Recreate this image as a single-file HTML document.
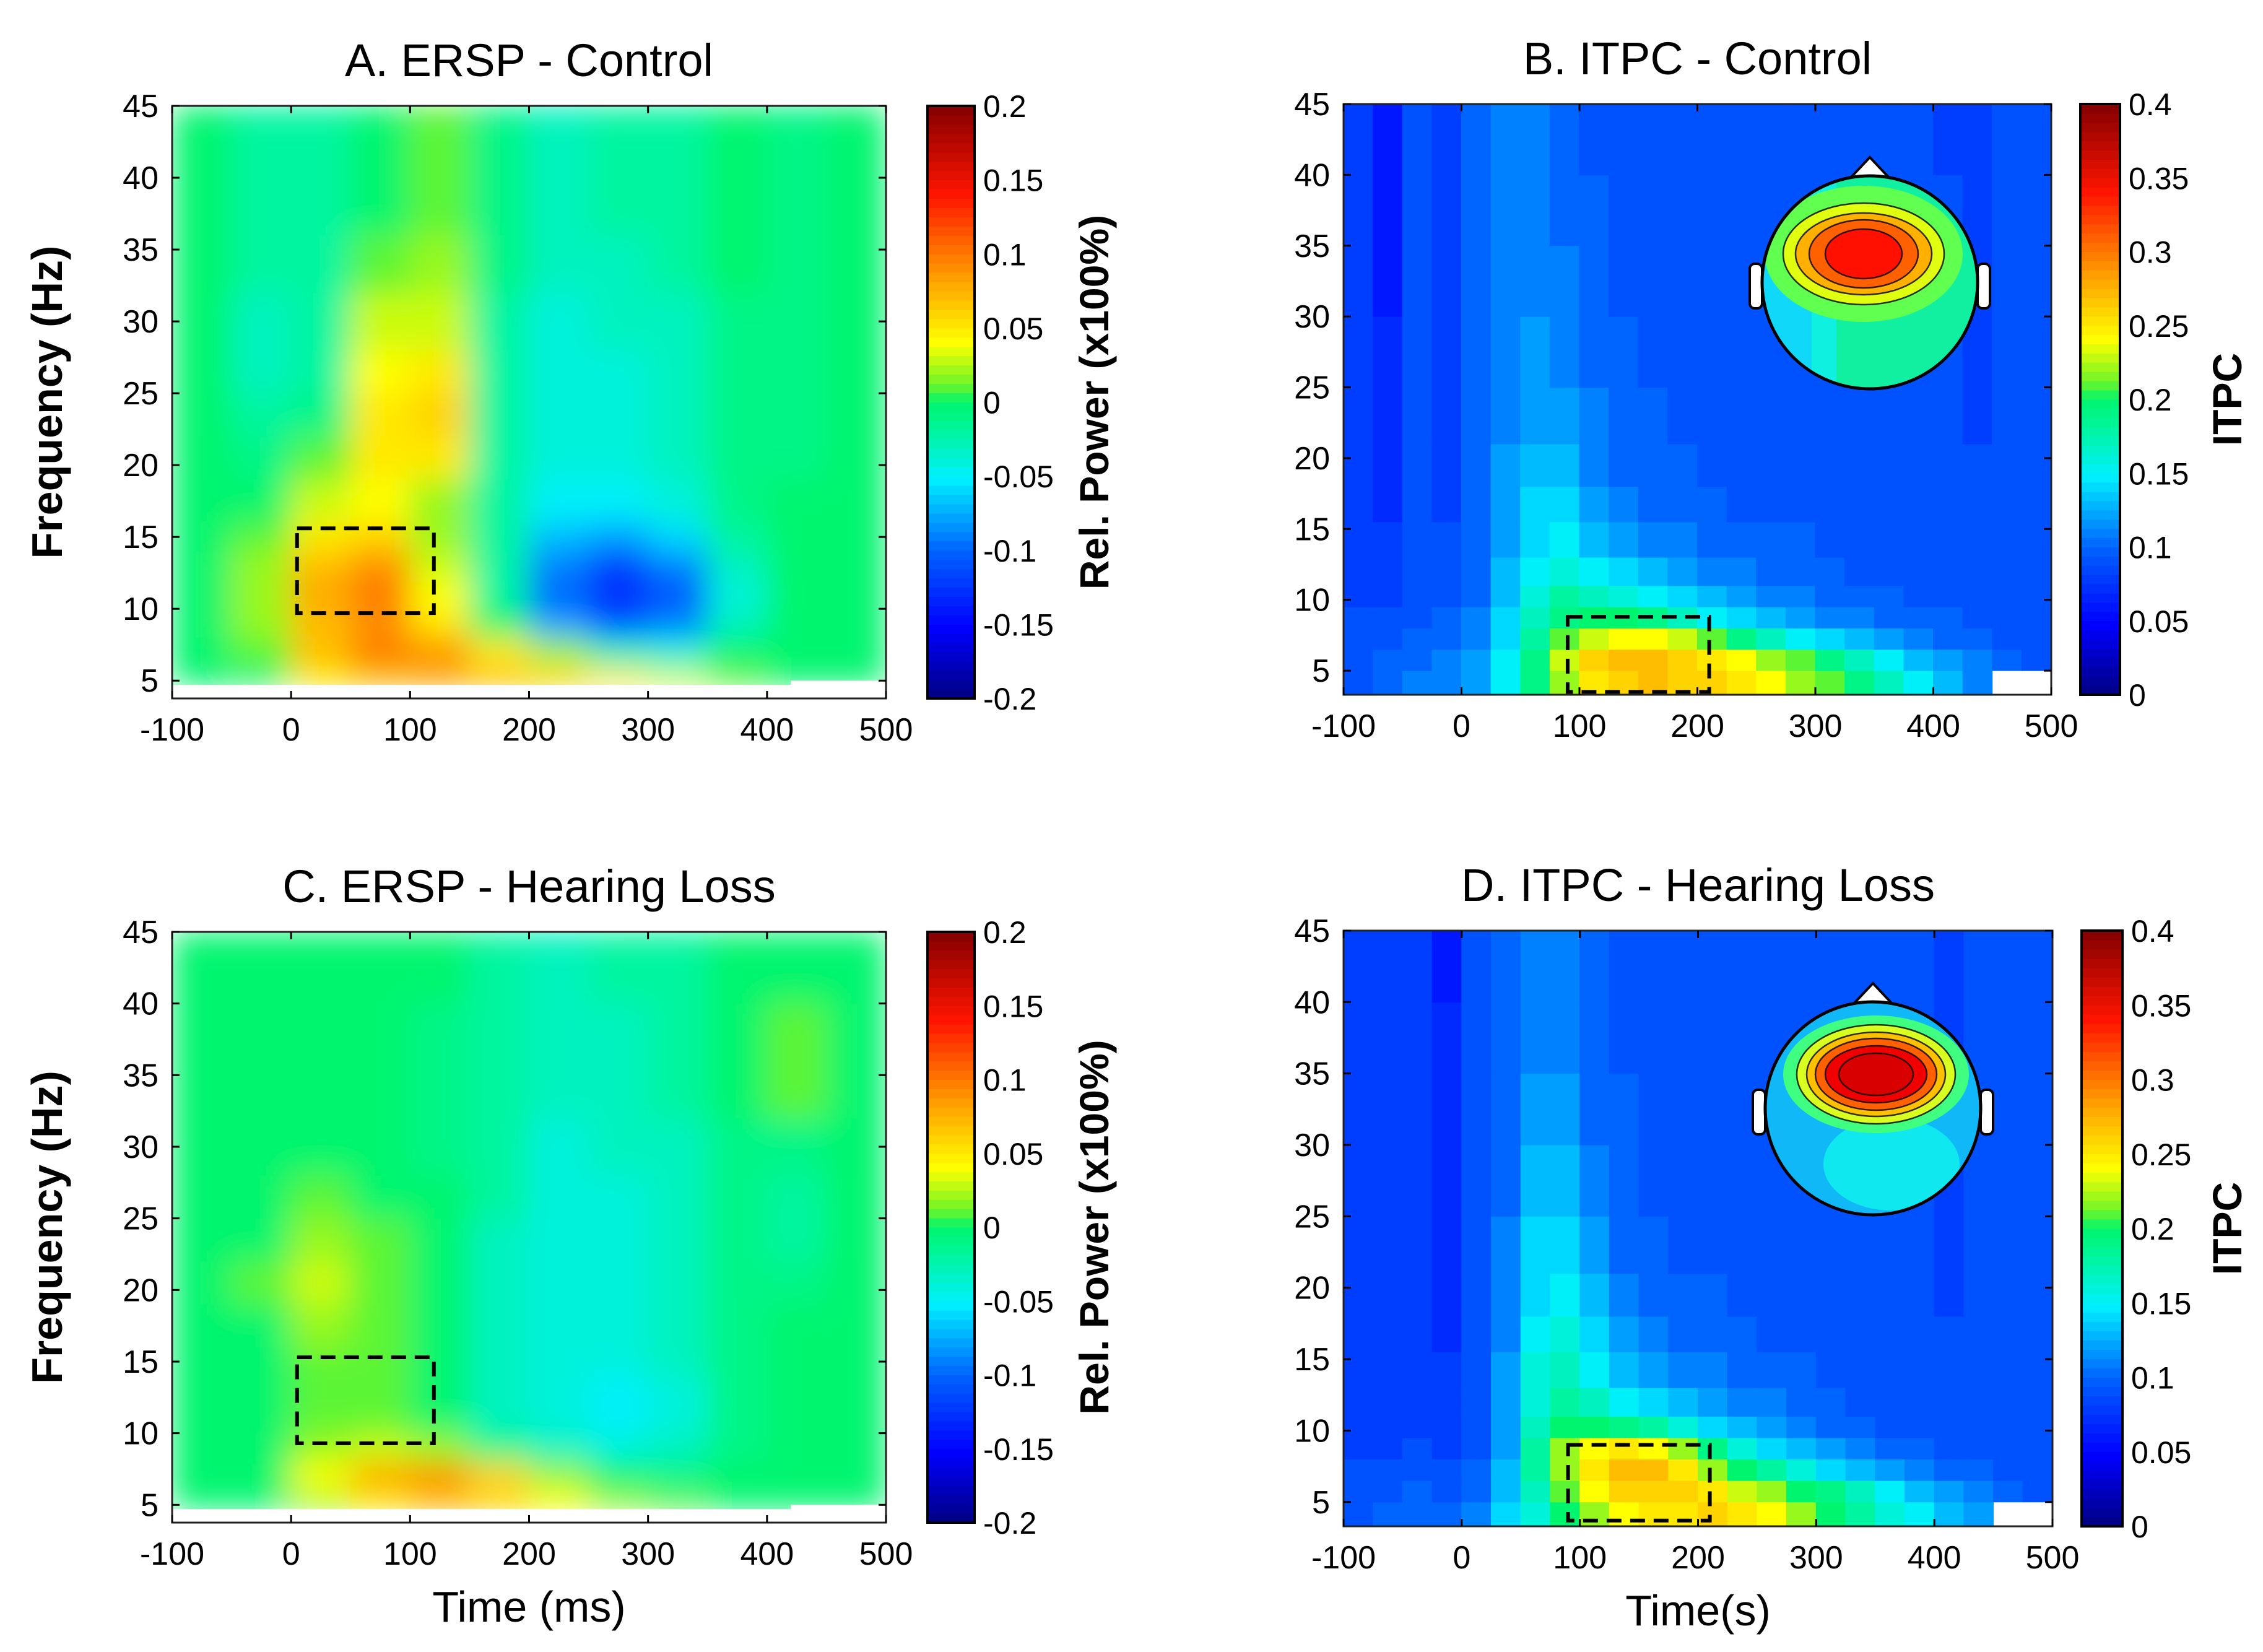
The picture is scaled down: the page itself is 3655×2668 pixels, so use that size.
<!DOCTYPE html>
<html><head><meta charset="utf-8">
<style>
html,body{margin:0;padding:0;background:#fff;}
svg{display:block;}
text{font-family:"Liberation Sans",Arial,sans-serif;fill:#000;}
</style></head>
<body>
<svg id="fig" width="3655" height="2668" viewBox="0 0 3655 2668" xmlns="http://www.w3.org/2000/svg">
<defs>
<filter id="blurA" x="-5%" y="-5%" width="110%" height="110%"><feGaussianBlur stdDeviation="26" edgeMode="duplicate"/></filter>
</defs>
</svg>
<script>
// ===== Data (values in hundredths) =====
const ersTimeEdges = [-100,-50,0,50,100,150,200,250,300,350,400,450,500];
const ersFreqEdges = [4.7,6,8,10,12,14,16,19,22,25,28,32,36,40,45];
const ersA = [
[0,0,5,7,8,7,6,5,3,1,0,0],
[0,1,7,10,9,5,2,-3,-4,0,0,0],
[0,2,7,9,5,0,-8,-11,-9,-3,0,0],
[0,2,8,10,4,-2,-10,-13,-11,-4,0,0],
[0,2,7,9,3,-2,-9,-12,-9,-3,0,0],
[0,1,5,6,2,-2,-7,-8,-6,-2,0,0],
[0,0,3,4,2,-2,-5,-5,-4,-1,0,0],
[0,-1,1,5,5,-2,-4,-4,-3,-1,-1,0],
[0,-2,-1,5,6,-2,-4,-4,-3,-1,-1,0],
[0,-3,-2,4,5,-2,-4,-4,-3,-1,-1,0],
[0,-3,-2,3,3,-2,-4,-3,-3,-1,-1,0],
[0,-2,-2,1,2,-1,-3,-3,-2,0,-1,0],
[0,-2,-2,0,1,-1,-3,-2,-2,0,-1,0],
[0,-2,-2,0,1,-1,-3,-2,-2,0,-1,0]];
const ersC = [
[0,0,2,5,7,6,4,2,1,0,0,0],
[0,0,4,8,9,6,2,0,-1,0,0,0],
[0,0,2,3,2,-1,-3,-4,-3,-1,0,0],
[0,0,1,1,0,-3,-4,-5,-4,-1,0,0],
[0,0,1,1,0,-3,-4,-5,-4,-1,0,0],
[0,0,1,1,0,-3,-4,-4,-3,-1,0,0],
[0,0,2,1,0,-3,-4,-4,-3,-1,0,0],
[0,1,3,1,0,-3,-4,-4,-3,-1,-1,0],
[0,0,2,1,0,-3,-4,-4,-3,-1,-2,0],
[0,0,1,0,0,-2,-4,-4,-3,-1,-2,0],
[0,0,0,0,-1,-2,-4,-3,-3,-1,-1,0],
[0,0,0,0,-1,-2,-3,-3,-2,0,1,0],
[0,0,0,0,-1,-2,-3,-3,-2,0,1,0],
[0,0,0,0,0,-2,-3,-2,-2,0,0,0]];
const itpcTimeEdges = [-100,-75,-50,-25,0,25,50,75,100,125,150,175,200,225,250,275,300,325,350,375,400,425,450,475,500];
const itpcFreqEdges = [3.3,5,6.5,8,9.5,11,13,15.5,18,21,25,30,35,40,45];
const itpcB = [
[9,10,11,11,12,15,19,22,25,26,27,26,26,25,24,22,21,19,17,15,13,11,null,null],
[9,10,10,11,12,15,19,23,26,27,27,26,25,24,22,21,19,17,15,13,12,11,10,9],
[9,9,10,10,11,14,18,21,23,24,24,23,21,19,17,15,14,13,12,11,10,10,9,9],
[9,9,9,10,11,14,17,19,20,20,19,17,15,14,13,12,11,11,10,10,10,9,9,9],
[8,8,9,9,10,13,16,18,17,16,15,14,13,12,11,11,10,10,10,9,9,9,9,9],
[8,8,9,9,10,13,15,16,15,14,13,12,11,11,10,10,10,9,9,9,9,9,9,9],
[8,8,9,9,10,12,14,15,13,12,11,11,10,10,10,10,9,9,9,9,9,9,9,9],
[8,7,9,8,10,12,14,14,12,11,10,10,10,9,9,9,9,9,9,9,9,9,9,9],
[8,7,9,8,10,12,13,13,11,10,10,10,9,9,9,9,9,9,9,9,9,9,9,9],
[8,7,9,8,10,11,12,12,11,10,10,9,9,9,9,9,9,9,9,9,9,8,9,9],
[8,7,9,8,10,11,12,11,10,10,9,9,9,9,9,9,9,9,9,9,9,8,9,9],
[8,6,9,8,10,11,11,11,10,9,9,9,9,9,9,9,9,9,9,9,9,8,9,9],
[8,6,9,8,10,11,11,10,10,9,9,9,9,9,9,9,9,9,9,9,9,8,9,9],
[8,6,9,8,10,11,11,10,9,9,9,9,9,9,9,9,9,9,9,9,8,8,9,9]];
const itpcD = [
[9,10,10,10,11,14,16,20,22,24,25,25,26,25,24,22,20,18,16,15,13,12,null,null],
[9,9,10,9,10,13,17,21,24,26,26,26,25,23,22,20,19,17,15,13,12,11,10,9],
[9,9,9,9,10,13,18,22,25,27,27,25,22,20,18,16,14,13,12,11,10,10,9,9],
[8,8,9,8,9,12,18,22,24,25,24,22,19,16,14,13,12,11,10,10,9,9,9,9],
[8,8,8,8,9,12,17,20,20,19,18,16,14,13,12,11,10,10,9,9,9,9,9,9],
[8,8,8,8,9,12,16,18,17,15,14,13,12,11,11,10,10,9,9,9,9,9,9,9],
[8,8,8,8,9,12,16,17,15,13,12,11,11,10,10,10,9,9,9,9,9,9,9,9],
[8,8,8,7,9,11,15,16,14,12,11,10,10,10,9,9,9,9,9,9,9,9,9,9],
[8,8,8,7,9,11,14,15,13,11,10,10,10,9,9,9,9,9,9,9,8,9,9,9],
[8,8,8,7,9,11,14,14,12,10,10,9,9,9,9,9,9,9,9,9,8,9,9,9],
[8,8,8,7,9,10,13,13,11,10,9,9,9,9,9,9,9,9,9,9,8,9,9,9],
[8,8,8,7,9,10,12,12,10,10,9,9,9,9,9,9,9,9,9,9,8,9,9,9],
[8,8,8,7,9,10,11,11,10,9,9,9,9,9,9,9,9,9,9,9,8,9,9,9],
[8,8,8,6,9,10,11,11,10,9,9,9,9,9,9,9,9,9,9,9,8,9,9,9]];
const xTicks = [-100,0,100,200,300,400,500];
const yTicks = [5,10,15,20,25,30,35,40,45];
const ersCbTicks = ["-0.2","-0.15","-0.1","-0.05","0","0.05","0.1","0.15","0.2"];
const itpcCbTicks = ["0","0.05","0.1","0.15","0.2","0.25","0.3","0.35","0.4"];

// ===== Rendering =====
const NS="http://www.w3.org/2000/svg";
const svg=document.getElementById('fig');
function mk(tag,attrs,parent){const e=document.createElementNS(NS,tag);for(const k in attrs)e.setAttribute(k,attrs[k]);(parent||svg).appendChild(e);return e;}
const cmapStops=[[0,0,0,130],[0.12,0,0,255],[0.25,0,100,255],[0.37,0,240,255],[0.45,0,245,160],[0.5,0,245,110],[0.53,110,245,40],[0.6,255,255,0],[0.72,255,150,0],[0.85,255,20,0],[1,130,0,0]];
function jet(t){t=Math.max(0,Math.min(1,t));
  for(let i=1;i<cmapStops.length;i++){const a=cmapStops[i-1],b=cmapStops[i];
    if(t<=b[0]){const f=(t-a[0])/(b[0]-a[0]);
      return `rgb(${Math.round(a[1]+f*(b[1]-a[1]))},${Math.round(a[2]+f*(b[2]-a[2]))},${Math.round(a[3]+f*(b[3]-a[3]))})`;}}
  return 'rgb(130,0,0)';}
function txt(s,x,y,size,anchor,parent,extra){const t=mk('text',Object.assign({x:x,y:y,'font-size':size,'text-anchor':anchor||'middle'},extra||{}),parent);t.textContent=s;return t;}

const panels=[
 {id:'a',title:'A. ERSP - Control',L:278,R:1431,T:171,B:1128,ymin:3.76,data:ersA,tE:ersTimeEdges,fE:ersFreqEdges,vmin:-20,vmax:20,blur:true,
  cb:[1498,1574],cbT:ersCbTicks,cbLabel:'Rel. Power (x100%)',cbLabelX:1790,box:[5,120,9.7,15.6],xlabel:null,ylabel:true},
 {id:'b',title:'B. ITPC - Control',L:2170,R:3313,T:168,B:1122,ymin:3.3,data:itpcB,tE:itpcTimeEdges,fE:itpcFreqEdges,vmin:0,vmax:40,blur:false,
  cb:[3360,3424],cbT:itpcCbTicks,cbLabel:'ITPC',cbLabelX:3620,box:[90,210,3.5,8.8],xlabel:null,ylabel:false,head:'b'},
 {id:'c',title:'C. ERSP - Hearing Loss',L:278,R:1431,T:1505,B:2459,ymin:3.76,data:ersC,tE:ersTimeEdges,fE:ersFreqEdges,vmin:-20,vmax:20,blur:true,
  cb:[1498,1574],cbT:ersCbTicks,cbLabel:'Rel. Power (x100%)',cbLabelX:1790,box:[5,120,9.3,15.3],xlabel:'Time (ms)',ylabel:true},
 {id:'d',title:'D. ITPC - Hearing Loss',L:2170,R:3315,T:1503,B:2465,ymin:3.3,data:itpcD,tE:itpcTimeEdges,fE:itpcFreqEdges,vmin:0,vmax:40,blur:false,
  cb:[3362,3428],cbT:itpcCbTicks,cbLabel:'ITPC',cbLabelX:3620,box:[90,210,3.7,9],xlabel:'Time(s)',ylabel:false,head:'d'}
];

panels.forEach(p=>{
  const g=mk('g',{});
  
  
  const xs=t=>p.L+(t+100)/600*(p.R-p.L);
  const ys=f=>p.B-(f-p.ymin)/(45-p.ymin)*(p.B-p.T);
  const tt=txt(p.title,(p.L+p.R)/2,p.T-48,74,'middle',g);
  
  
  const cp=mk('clipPath',{id:'clip'+p.id});
  mk('rect',{x:p.L,y:p.T,width:p.R-p.L,height:p.B-p.T},cp);
  const hmOuter=mk('g',{'clip-path':'url(#clip'+p.id+')'},g);
  
  
  mk('rect',{x:p.L,y:p.T,width:p.R-p.L,height:p.B-p.T,fill:'#fff'},hmOuter);
  const hm=mk('g',p.blur?{filter:'url(#blurA)'}:{},hmOuter);
  p.data.forEach((row,ri)=>{
    row.forEach((v,ci)=>{
      if(v===null) return;
      const x0=xs(p.tE[ci]),x1=xs(p.tE[ci+1]),y0=ys(p.fE[ri+1]),y1=ys(p.fE[ri]);
      const r=mk('rect',{x:x0-0.5,y:y0-0.5,width:x1-x0+1,height:y1-y0+1,fill:jet((v-p.vmin)/(p.vmax-p.vmin))},hm);
      
      
    });
  });
  if(p.blur){
    mk('rect',{x:p.L,y:ys(p.fE[0]),width:p.R-p.L,height:p.B-ys(p.fE[0])+2,fill:'#fff'},hmOuter);
    mk('rect',{x:xs(420),y:ys(5.0),width:xs(500)-xs(420),height:p.B-ys(5.0),fill:'#fff'},hmOuter);
  }
  if(p.head) drawHead(p.head==='b'?{cx:3020,cy:456,r:174,bx:2990,by:405,big:false}:{cx:3025,cy:1790,r:174,bx:3030,by:1735,big:true},g);
  const fr=mk('rect',{x:p.L,y:p.T,width:p.R-p.L,height:p.B-p.T,fill:'none',stroke:'#222','stroke-width':3},g);
  
  
  xTicks.forEach(t=>{
    const x=xs(t);
    mk('line',{x1:x,y1:p.B,x2:x,y2:p.B-12,stroke:'#000','stroke-width':3},g);
    mk('line',{x1:x,y1:p.T,x2:x,y2:p.T+12,stroke:'#000','stroke-width':3},g);
    const l=txt(String(t),x,p.B+68,52,'middle',g);
    
    
  });
  yTicks.forEach(f=>{
    const y=ys(f);
    mk('line',{x1:p.L,y1:y,x2:p.L+12,y2:y,stroke:'#000','stroke-width':3},g);
    mk('line',{x1:p.R,y1:y,x2:p.R-12,y2:y,stroke:'#000','stroke-width':3},g);
    const l=txt(String(f),p.L-22,y+18,52,'end',g);
    
    
  });
  const bx=mk('rect',{x:xs(p.box[0]),y:ys(p.box[3]),width:xs(p.box[1])-xs(p.box[0]),height:ys(p.box[2])-ys(p.box[3]),fill:'none',stroke:'#000','stroke-width':6,'stroke-dasharray':'24 14'},g);
  
  
  const cbg=mk('g',{},g);
  
  
  const N=64, ch=(p.B-p.T)/N;
  for(let i=0;i<N;i++){
    mk('rect',{x:p.cb[0],y:p.B-(i+1)*ch-0.5,width:p.cb[1]-p.cb[0],height:ch+1,fill:jet((i+0.5)/N)},cbg);
  }
  mk('rect',{x:p.cb[0],y:p.T,width:p.cb[1]-p.cb[0],height:p.B-p.T,fill:'none',stroke:'#000','stroke-width':4},cbg);
  p.cbT.forEach((s,i)=>{
    const y=p.B-i/(p.cbT.length-1)*(p.B-p.T);
    const l=txt(s,p.cb[1]+14,y+18,50,'start',cbg);
    
    
  });
  const cl=txt(p.cbLabel,0,0,66,'middle',g,{transform:`translate(${p.cbLabelX},${(p.T+p.B)/2}) rotate(-90)`,'font-weight':'bold'});
  
  
  if(p.ylabel){
    const yl=txt('Frequency (Hz)',0,0,70,'middle',g,{transform:`translate(100,${(p.T+p.B)/2}) rotate(-90)`,'font-weight':'bold'});
    
    
  }
  if(p.xlabel){
    const xl=txt(p.xlabel,(p.L+p.R)/2,p.B+160,70,'middle',g);
    
    
  }
});

function drawHead(h,parent){
  const g=mk('g',{},parent);
  
  
  mk('polygon',{points:`${h.cx-32},${h.cy-h.r+6} ${h.cx},${h.cy-h.r-28} ${h.cx+32},${h.cy-h.r+6}`,fill:'#fff',stroke:'#000','stroke-width':4},g);
  mk('rect',{x:h.cx-h.r-20,y:h.cy-30,width:20,height:72,rx:8,fill:'#fff',stroke:'#000','stroke-width':4},g);
  mk('rect',{x:h.cx+h.r,y:h.cy-30,width:20,height:72,rx:8,fill:'#fff',stroke:'#000','stroke-width':4},g);
  const cid='hc'+h.cx+h.cy;
  const cp=mk('clipPath',{id:cid},g);
  mk('ellipse',{cx:h.cx,cy:h.cy,rx:h.r,ry:h.r-2},cp);
  const inner=mk('g',{'clip-path':`url(#${cid})`},g);
  mk('rect',{x:h.cx-h.r,y:h.cy-h.r,width:2*h.r,height:2*h.r,fill:h.big?'#10b8f8':'#10f0a0'},inner);
  if(h.big){
    mk('ellipse',{cx:h.cx+30,cy:h.cy+90,rx:110,ry:75,fill:'#10e8f0'},inner);
  } else {
    mk('rect',{x:h.cx-h.r,y:h.cy-h.r,width:80,height:2*h.r,fill:'#10d8f8'},inner);
    mk('rect',{x:h.cx-h.r+80,y:h.cy-h.r,width:40,height:2*h.r,fill:'#10f0e0'},inner);
  }
  const cx=h.bx, cy=h.by;
  const layers=h.big?[[150,95,'#40ff80'],[128,80,'#d8ff20'],[112,68,'#ffc000'],[98,58,'#ff6000'],[82,46,'#f00000'],[60,34,'#d80000']]
                    :[[160,110,'#60ff50'],[130,82,'#e0ff10'],[110,66,'#ffb000'],[88,55,'#ff6000'],[62,40,'#ff1000']];
  layers.forEach((L,i)=>{
    mk('ellipse',{cx:cx+(h.big?0:20),cy:cy+(h.big?0:5),rx:L[0],ry:L[1],fill:L[2],stroke:'#000','stroke-width':i===0?0:2.5,'stroke-opacity':0.8},inner);
  });
  mk('ellipse',{cx:h.cx,cy:h.cy,rx:h.r,ry:h.r-2,fill:'none',stroke:'#000','stroke-width':5},g);
}
</script>
</body></html>
